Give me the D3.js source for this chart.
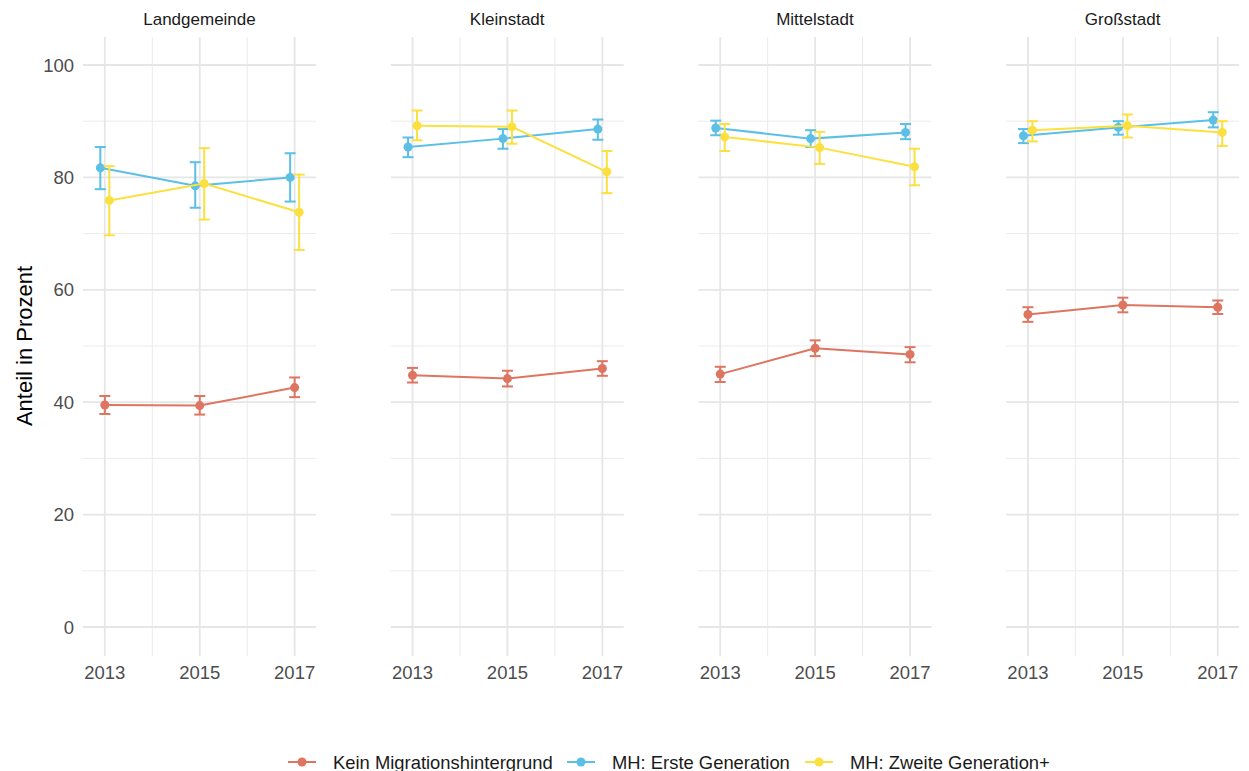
<!DOCTYPE html>
<html><head><meta charset="utf-8">
<script src="https://cdn.jsdelivr.net/npm/d3@7"></script>
<style>body{margin:0;background:#fff;}svg{display:block;font-family:"Liberation Sans",Arial,sans-serif;}</style>
</head><body><svg id="c" width="1249" height="771"></svg>
<script>
const panels = ["Landgemeinde","Kleinstadt","Mittelstadt","Großstadt"];
const years = [2013, 2015, 2017];
const seriesNames = ["Kein Migrationshintergrund","MH: Erste Generation","MH: Zweite Generation+"];
const colors = ["#de7561","#5bbfe6","#fbe03f"];
const yTicks = [0,20,40,60,80,100];
// values [panel][year]
const kein =   [[39.5,39.4,42.6],[44.8,44.2,46.0],[45.0,49.6,48.5],[55.6,57.3,56.9]];
const keinLo = [[37.9,37.8,40.9],[43.5,42.8,44.7],[43.6,48.2,47.1],[54.3,56.0,55.7]];
const keinHi = [[41.1,41.1,44.4],[46.1,45.6,47.3],[46.3,51.0,49.8],[56.9,58.6,58.1]];
const erste =   [[81.7,78.5,80.0],[85.4,86.9,88.6],[88.8,86.9,88.0],[87.4,88.9,90.2]];
const ersteLo = [[77.9,74.6,75.7],[83.6,85.1,86.7],[87.5,85.4,86.8],[86.1,87.6,88.9]];
const ersteHi = [[85.4,82.7,84.3],[87.1,88.6,90.3],[90.1,88.4,89.5],[88.6,90.0,91.6]];
const zweite =   [[75.9,78.9,73.8],[89.2,89.0,81.0],[87.2,85.3,81.9],[88.4,89.2,88.0]];
const zweiteLo = [[69.7,72.5,67.1],[86.6,86.0,77.2],[84.7,82.4,78.6],[86.4,87.1,85.6]];
const zweiteHi = [[82.0,85.2,80.5],[91.9,91.9,84.7],[89.5,88.1,85.1],[90.0,91.2,90.0]];

const series = [
  {name:seriesNames[0], v:kein, lo:keinLo, hi:keinHi, color:colors[0], dodge:0},
  {name:seriesNames[1], v:erste, lo:ersteLo, hi:ersteHi, color:colors[1], dodge:-4.5},
  {name:seriesNames[2], v:zweite, lo:zweiteLo, hi:zweiteHi, color:colors[2], dodge:4.5}
];

const svg = d3.select("#c");
const panelW = 233, panelStep = 307.7, panelX0 = 83;
const panelTop = 37, panelBottom = 656;
const y = d3.scaleLinear().domain([0,100]).range([627,65]);
const lw = 2;

panels.forEach((p, pi) => {
  const x0 = panelX0 + pi*panelStep;
  const x = d3.scaleLinear().domain([2012.54, 2017.45]).range([x0, x0+panelW]);
  const g = svg.append("g");
  const minorY = [10,30,50,70,90];
  g.selectAll(".my").data(minorY).join("line")
    .attr("x1", x0).attr("x2", x0+panelW).attr("y1", d=>y(d)).attr("y2", d=>y(d))
    .attr("stroke","#ebebeb").attr("stroke-width",1);
  g.selectAll(".mx").data([2014,2016]).join("line")
    .attr("x1", d=>x(d)).attr("x2", d=>x(d)).attr("y1", panelTop).attr("y2", panelBottom)
    .attr("stroke","#ebebeb").attr("stroke-width",1);
  g.selectAll(".gy").data(yTicks).join("line")
    .attr("x1", x0).attr("x2", x0+panelW).attr("y1", d=>y(d)).attr("y2", d=>y(d))
    .attr("stroke","#e6e6e6").attr("stroke-width",1.8);
  g.selectAll(".gx").data(years).join("line")
    .attr("x1", d=>x(d)).attr("x2", d=>x(d)).attr("y1", panelTop).attr("y2", panelBottom)
    .attr("stroke","#e6e6e6").attr("stroke-width",1.8);
  g.append("text").attr("x", x0+panelW/2).attr("y", 25).attr("text-anchor","middle")
    .attr("font-size", 17).attr("fill","#1a1a1a").text(p);
  g.selectAll(".xl").data(years).join("text")
    .attr("x", d=>x(d)).attr("y", 679).attr("text-anchor","middle")
    .attr("font-size", 18.5).attr("fill","#4d4d4d").text(d=>d);
  if (pi === 0) {
    g.selectAll(".yl").data(yTicks).join("text")
      .attr("x", 74).attr("y", d=>y(d)+6.5).attr("text-anchor","end")
      .attr("font-size", 18.5).attr("fill","#4d4d4d").text(d=>d);
  }
  series.forEach(s => {
    const pts = years.map((yr, i) => ({px: x(yr)+s.dodge, v:s.v[pi][i], lo:s.lo[pi][i], hi:s.hi[pi][i]}));
    const gs = g.append("g");
    gs.append("path").attr("d", d3.line().x(d=>d.px).y(d=>y(d.v))(pts))
      .attr("fill","none").attr("stroke", s.color).attr("stroke-width",lw);
    const eb = gs.selectAll(".eb").data(pts).join("g");
    eb.append("line").attr("x1",d=>d.px).attr("x2",d=>d.px).attr("y1",d=>y(d.lo)).attr("y2",d=>y(d.hi))
      .attr("stroke", s.color).attr("stroke-width",lw);
    eb.append("line").attr("x1",d=>d.px-5.5).attr("x2",d=>d.px+5.5).attr("y1",d=>y(d.lo)).attr("y2",d=>y(d.lo))
      .attr("stroke", s.color).attr("stroke-width",lw);
    eb.append("line").attr("x1",d=>d.px-5.5).attr("x2",d=>d.px+5.5).attr("y1",d=>y(d.hi)).attr("y2",d=>y(d.hi))
      .attr("stroke", s.color).attr("stroke-width",lw);
    eb.append("circle").attr("cx",d=>d.px).attr("cy",d=>y(d.v)).attr("r",4.5).attr("fill", s.color);
  });
});

svg.append("text").attr("transform","translate(32,346) rotate(-90)").attr("text-anchor","middle")
  .attr("font-size", 22).attr("fill","#000").text("Anteil in Prozent");

const legendTextX = [333, 612, 850];
const lg = svg.append("g");
series.forEach((s, i) => {
  const cx = legendTextX[i] - 31;
  lg.append("line").attr("x1", cx-14).attr("x2", cx+14).attr("y1", 762).attr("y2", 762)
    .attr("stroke", s.color).attr("stroke-width",lw);
  lg.append("circle").attr("cx", cx).attr("cy", 762).attr("r", 4.5).attr("fill", s.color);
  lg.append("text").attr("x", legendTextX[i]).attr("y", 768.5).attr("font-size", 18.4).attr("fill","#1a1a1a").text(s.name);
});
</script></body></html>
